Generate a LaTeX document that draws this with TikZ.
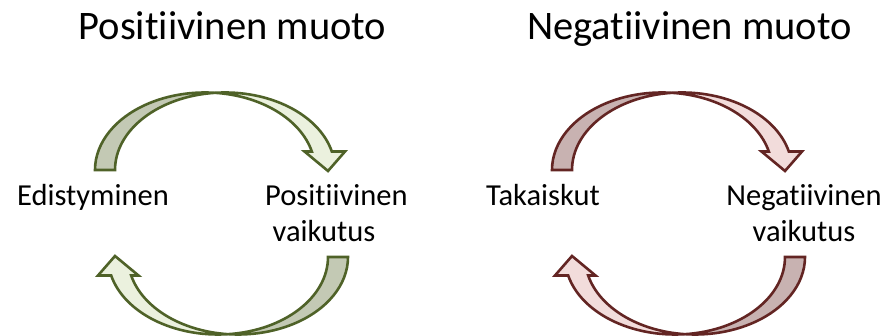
\documentclass[tikz,border=0pt]{standalone}
\usepackage{fontspec}
\setmainfont[Ligatures={NoCommon,NoRequired,NoContextual}]{Carlito}
\definecolor{oliveline}{HTML}{4F6228}
\definecolor{oliveback}{HTML}{C3C9B4}
\definecolor{olivefront}{HTML}{EBF1DE}
\definecolor{wineline}{HTML}{632523}
\definecolor{wineback}{HTML}{C8B2B1}
\definecolor{winefront}{HTML}{F2DCDB}
\tikzset{
  heading/.style={font=\fontsize{40.5}{48}\selectfont, anchor=base, inner sep=0pt},
  caption/.style={font=\fontsize{30.5}{36}\selectfont, anchor=base, inner sep=0pt},
  ribbon/.style={line width=2.6pt, line join=miter},
  ell/.style={x radius=110, y radius=77.5}
}
% Curved ribbon arrow: back face on the left, front face with the head on the right.
% #1 outline colour, #2 back face fill, #3 front face fill
\newcommand\ribbonarrow[3]{%
  \filldraw[ribbon, draw=#1, fill=#2]
    (95,166) arc[start angle=180, end angle=84.78, ell]
             arc[start angle=95.22, end angle=180, ell] -- cycle;
  \filldraw[ribbon, draw=#1, fill=#3]
    (215,243.18) arc[start angle=95.22, end angle=13.81, ell]
    -- (345,184.5) -- (328,165) -- (304.5,184.5) -- (311.82,184.5)
    arc[start angle=13.81, end angle=84.78, ell] -- cycle;
}
\begin{document}
\begin{tikzpicture}[x=1pt, y=1pt]
  \useasboundingbox (0,0) rectangle (886,336);

  % positive cycle
  \node[heading] (posTitle) at (232.5,296.7) {Positiivinen muoto};
  \begin{scope}
    \ribbonarrow{oliveline}{oliveback}{olivefront}
  \end{scope}
  \begin{scope}[rotate around={180:(221.5,122.5)}]
    \ribbonarrow{oliveline}{oliveback}{olivefront}
  \end{scope}
  \node[caption] (progress) at (93,130.5) {Edistyminen};
  % two-line captions: the base anchor sits on the last line
  \node[caption, anchor=base west, align=left] (posEffect) at (265,94.5)
    {Positiivinen\\\hspace*{7.5pt}vaikutus};

  % negative cycle
  \node[heading] (negTitle) at (689.5,296.7) {Negatiivinen muoto};
  \begin{scope}[xshift=457pt]
    \ribbonarrow{wineline}{wineback}{winefront}
  \end{scope}
  \begin{scope}[xshift=457pt, rotate around={180:(221.5,122.5)}]
    \ribbonarrow{wineline}{wineback}{winefront}
  \end{scope}
  \node[caption] (setbacks) at (543,130.5) {Takaiskut};
  \node[caption, align=center] (negEffect) at (804,94.5)
    {Negatiivinen\\vaikutus};
\end{tikzpicture}
\end{document}
